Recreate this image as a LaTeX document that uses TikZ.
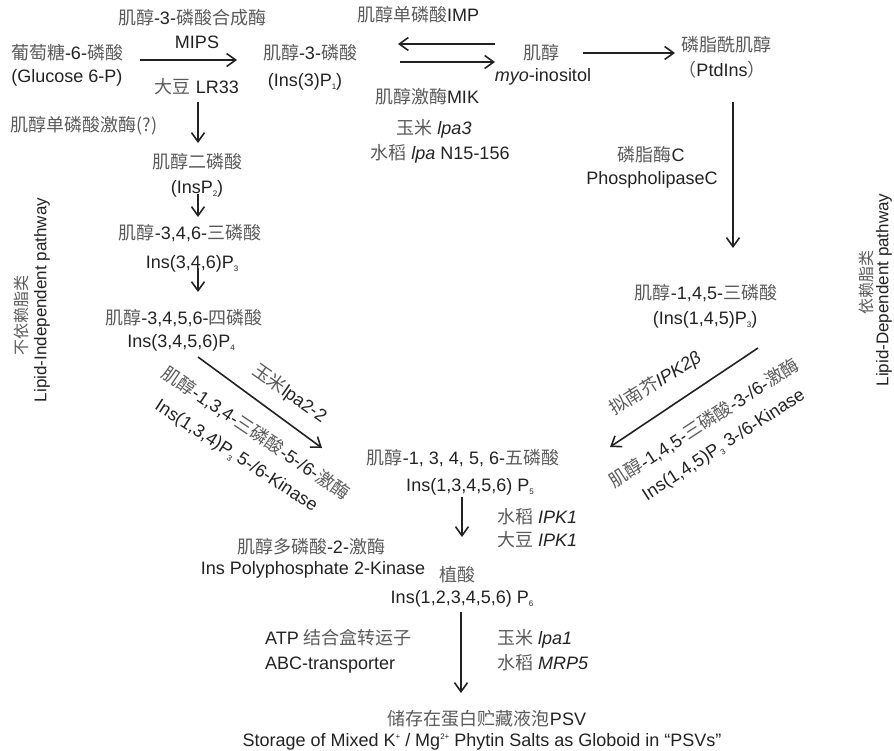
\documentclass[tikz,border=0pt]{standalone}
\usepackage{fontspec}
\setmainfont{Liberation Sans}
\newfontfamily\cjk{Noto Sans CJK SC}
\usepackage{tikz}
\usetikzlibrary{arrows.meta}

\definecolor{ink}{HTML}{222222}
\definecolor{zhgray}{HTML}{5A5A5A}
\newcommand{\zh}[1]{{\cjk\color{zhgray}#1}}
\newcommand{\sbs}[1]{\raisebox{-3pt}{\fontsize{8}{8}\selectfont #1}}
\newcommand{\sps}[1]{\raisebox{7pt}{\fontsize{8}{8}\selectfont #1}}

\begin{document}
\begin{tikzpicture}[x=1pt, y=-1pt,
  lbl/.style={inner sep=0pt, text height=13pt, text depth=0pt, font=\fontsize{18}{22}\selectfont, text=ink},
  side/.style={inner sep=0pt, rotate=90, font=\fontsize{17}{20}\selectfont, text=ink},
  arr/.style={draw=ink, line width=1.6pt, -{Straight Barb[length=9pt,width=13pt]}}]
\useasboundingbox (0,0) rectangle (894,750);

\node[lbl] (mipszh) at (192,18) {\zh{肌醇}-3-\zh{磷酸合成酶}};
\node[lbl] (mips) at (197,42) {MIPS};
\node[lbl] (g6pzh) at (67,53) {\zh{葡萄糖}-6-\zh{磷酸}};
\node[lbl] (g6p) at (67,76) {(Glucose 6-P)};
\node[lbl] (lr33) at (197,87) {\zh{大豆} LR33};
\node[lbl] (impk) at (84,125) {\zh{肌醇单磷酸激酶(?)}};
\node[lbl] (ins3pzh) at (310,53) {\zh{肌醇}-3-\zh{磷酸}};
\node[lbl] (ins3p) at (305,80) {(Ins(3)P\sbs{1})};
\node[lbl] (imp) at (418,15) {\zh{肌醇单磷酸}IMP};
\node[lbl] (mik) at (427,97) {\zh{肌醇激酶}MIK};
\node[lbl] (zmlpa3) at (434,128) {\zh{玉米} \textit{lpa3}};
\node[lbl] (sdlpa) at (440,153) {\zh{水稻} \textit{lpa} N15-156};
\node[lbl] (inozh) at (541,53) {\zh{肌醇}};
\node[lbl] (ino) at (543,75) {\textit{myo}-inositol};
\node[lbl] (ptdzh) at (726,45) {\zh{磷脂酰肌醇}};
\node[lbl] (ptd) at (722,70) {\zh{（}PtdIns\zh{）}};
\node[lbl] (plczh) at (651,155) {\zh{磷脂酶}C};
\node[lbl] (plc) at (652,178) {PhospholipaseC};
\node[lbl] (ip3zh) at (706,293) {\zh{肌醇}-1,4,5-\zh{三磷酸}};
\node[lbl] (ip3) at (705,318) {(Ins(1,4,5)P\sbs{3})};

\node[lbl] (insp2zh) at (197,162) {\zh{肌醇二磷酸}};
\node[lbl] (insp2) at (197,187) {(InsP\sbs{2})};
\node[lbl] (p346zh) at (190,233) {\zh{肌醇}-3,4,6-\zh{三磷酸}};
\node[lbl] (p346) at (192,262) {Ins(3,4,6)P\sbs{3}};
\node[lbl] (p3456zh) at (184,318) {\zh{肌醇}-3,4,5,6-\zh{四磷酸}};
\node[lbl] (p3456) at (181,341) {Ins(3,4,5,6)P\sbs{4}};

\node[lbl, rotate=-35] (zmlpa22) at (290,393) {\zh{玉米}lpa2-2};
\node[lbl, rotate=-34] (ipkleftzh) at (256,433) {\zh{肌醇}-1,3,4-\zh{三磷酸}-5-/6-\zh{激酶}};
\node[lbl, rotate=-33] (ipkleft) at (237,455) {Ins(1,3,4)P\sbs{3} 5-/6-Kinase};
\node[lbl, rotate=32] (atipk) at (655,383) {\zh{拟南芥}\textit{IPK2β}};
\node[lbl, rotate=33] (ipkrightzh) at (704,423) {\zh{肌醇}-1,4,5-\zh{三磷酸}-3-/6-\zh{激酶}};
\node[lbl, rotate=33] (ipkright) at (723,444) {Ins(1,4,5)P\sbs{3} 3-/6-Kinase};

\node[lbl] (p5zh) at (463,458) {\zh{肌醇}-1, 3, 4, 5, 6-\zh{五磷酸}};
\node[lbl] (p5) at (470,485) {Ins(1,3,4,5,6) P\sbs{5}};
\node[lbl, anchor=west] (sdipk1) at (497,517) {\zh{水稻} \textit{IPK1}};
\node[lbl, anchor=west] (gmipk1) at (497,540) {\zh{大豆} \textit{IPK1}};
\node[lbl] (ipk2zh) at (311,547) {\zh{肌醇多磷酸}-2-\zh{激酶}};
\node[lbl] (ipk2) at (313,568) {Ins Polyphosphate 2-Kinase};
\node[lbl] (p6zh) at (457,575) {\zh{植酸}};
\node[lbl] (p6) at (462,597) {Ins(1,2,3,4,5,6) P\sbs{6}};
\node[lbl, anchor=west] (abczh) at (265,638) {ATP \zh{结合盒转运子}};
\node[lbl, anchor=west] (abc) at (265,663) {ABC-transporter};
\node[lbl, anchor=west] (zmlpa1) at (497,638) {\zh{玉米} \textit{lpa1}};
\node[lbl, anchor=west] (osmrp5) at (497,663) {\zh{水稻} \textit{MRP5}};
\node[lbl] (psvzh) at (487,719) {\zh{储存在蛋白贮藏液泡}PSV};
\node[lbl] (psv) at (482,740) {Storage of Mixed K\sps{+} / Mg\sps{2+} Phytin Salts as Globoid in “PSVs”};

\node[side] (indepzh) at (21,315) {\zh{\fontsize{16}{18}\selectfont 不依赖脂类}};
\node[side] (indep) at (42,300) {Lipid-Independent pathway};
\node[side] (depzh) at (866,282) {\zh{\fontsize{16}{18}\selectfont 依赖脂类}};
\node[side] (dep) at (884,290) {Lipid-Dependent pathway};

\coordinate (g6pout) at (140,60);
\coordinate (ins3pin) at (237,60);
\coordinate (inoback) at (495,44);
\coordinate (ins3pback) at (398,44);
\coordinate (ins3pout) at (400,62);
\coordinate (inoin) at (495,62);
\coordinate (inoout) at (583,53);
\coordinate (ptdin) at (675,53);
\coordinate (ptdout) at (733,102);
\coordinate (ip3in) at (733,248);
\coordinate (lr33out) at (198,102);
\coordinate (insp2in) at (198,143);
\coordinate (insp2out) at (198,194);
\coordinate (p346in) at (198,217);
\coordinate (p346out) at (198,268);
\coordinate (p3456in) at (198,292);
\coordinate (p3456out) at (198,357);
\coordinate (p5left) at (322,448);
\coordinate (ip3out) at (758,348);
\coordinate (p5right) at (610,447);
\coordinate (p5out) at (462,497);
\coordinate (p6in) at (462,537);
\coordinate (p6out) at (461,612);
\coordinate (psvin) at (461,693);

\draw[arr] (g6pout) -- (ins3pin);
\draw[arr] (inoback) -- (ins3pback);
\draw[arr] (ins3pout) -- (inoin);
\draw[arr] (inoout) -- (ptdin);
\draw[arr] (ptdout) -- (ip3in);
\draw[arr] (lr33out) -- (insp2in);
\draw[arr] (insp2out) -- (p346in);
\draw[arr] (p346out) -- (p3456in);
\draw[arr] (p3456out) -- (p5left);
\draw[arr] (ip3out) -- (p5right);
\draw[arr] (p5out) -- (p6in);
\draw[arr] (p6out) -- (psvin);
\end{tikzpicture}
\end{document}
